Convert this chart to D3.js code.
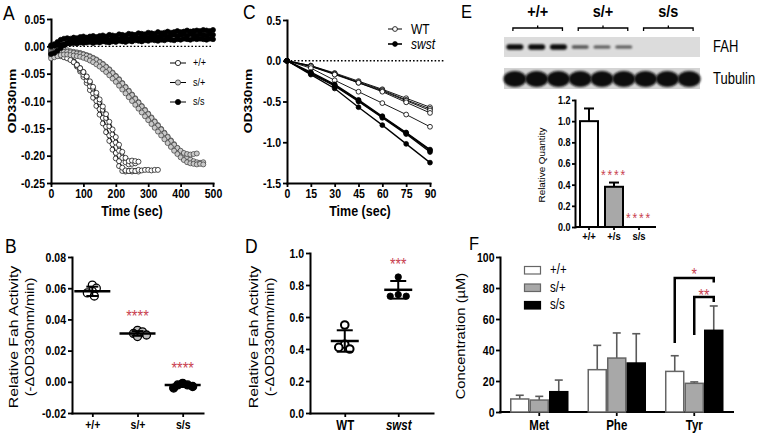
<!DOCTYPE html>
<html><head><meta charset="utf-8">
<script src="https://cdn.jsdelivr.net/npm/d3@7"></script>
<style>
html,body{margin:0;padding:0;background:#fff;}
svg{display:block;}
</style></head><body>
<svg id="chart" width="757" height="439"></svg>
<script>
// ---------------- DATA ----------------
// Panel A: OD330 kinetic traces (time in sec)
const timeA = [0,10,20,30,40,50,60,70,80,90,100,110,120,130,140,150,160,170,180,190,200,210,220,230,240,250,260,270,280,290,300,310,320,330,340,350,360,370,380,390,400,410,420,430,440,450,460,470,480,490,500];
const aWT = [
  [-0.004,-0.006,-0.008,-0.010,-0.013,-0.017,-0.022,-0.029,-0.037,-0.046,-0.056,-0.067,-0.080,-0.094,-0.109,-0.125,-0.141,-0.157,-0.173,-0.189,-0.205,-0.219,-0.228,-0.229,-0.228,-0.229,-0.228,-0.229],
  [-0.008,-0.009,-0.011,-0.012,-0.014,-0.018,-0.023,-0.028,-0.035,-0.043,-0.052,-0.062,-0.073,-0.086,-0.100,-0.115,-0.131,-0.147,-0.163,-0.179,-0.195,-0.210,-0.222,-0.227,-0.228,-0.227,-0.228,-0.226,-0.227,-0.226,-0.226,-0.227,-0.226,-0.226],
  [-0.010,-0.011,-0.012,-0.014,-0.016,-0.019,-0.023,-0.028,-0.033,-0.040,-0.047,-0.056,-0.066,-0.077,-0.089,-0.102,-0.116,-0.131,-0.146,-0.161,-0.176,-0.191,-0.204,-0.212,-0.216,-0.215,-0.214],
  [-0.015,-0.016,-0.017,-0.018,-0.020,-0.022,-0.025,-0.029,-0.034,-0.040,-0.047,-0.055,-0.064,-0.074,-0.085,-0.097,-0.110,-0.124,-0.138,-0.152,-0.166,-0.180,-0.193,-0.204,-0.210,-0.209,-0.210,-0.211]
];
const aHet = [
  [-0.012,-0.010,-0.008,-0.006,-0.006,-0.007,-0.009,-0.010,-0.011,-0.012,-0.014,-0.016,-0.018,-0.021,-0.024,-0.028,-0.032,-0.037,-0.042,-0.048,-0.054,-0.060,-0.067,-0.074,-0.081,-0.088,-0.095,-0.102,-0.109,-0.116,-0.123,-0.130,-0.137,-0.144,-0.151,-0.158,-0.165,-0.172,-0.179,-0.186,-0.192,-0.198,-0.203,-0.207,-0.210,-0.212,-0.213,-0.212],
  [-0.018,-0.016,-0.013,-0.011,-0.010,-0.010,-0.011,-0.012,-0.013,-0.014,-0.015,-0.017,-0.019,-0.022,-0.025,-0.029,-0.033,-0.038,-0.043,-0.049,-0.055,-0.061,-0.068,-0.075,-0.082,-0.089,-0.096,-0.103,-0.110,-0.117,-0.124,-0.131,-0.138,-0.145,-0.152,-0.159,-0.166,-0.173,-0.180,-0.186,-0.191,-0.195,-0.197,-0.198,-0.197,-0.196],
  [-0.022,-0.020,-0.018,-0.016,-0.015,-0.015,-0.016,-0.017,-0.018,-0.019,-0.021,-0.023,-0.026,-0.029,-0.033,-0.037,-0.042,-0.047,-0.053,-0.059,-0.065,-0.072,-0.079,-0.086,-0.093,-0.100,-0.107,-0.114,-0.121,-0.128,-0.135,-0.142,-0.149,-0.156,-0.163,-0.170,-0.177,-0.184,-0.191,-0.197,-0.203,-0.208,-0.212,-0.214,-0.215,-0.216,-0.215,-0.216]
];
const aHom = [
  [0.002,0.004,0.008,0.012,0.014,0.015,0.014,0.016,0.015,0.017,0.018,0.016,0.018,0.019,0.017,0.019,0.020,0.018,0.021,0.020,0.019,0.022,0.021,0.020,0.023,0.022,0.021,0.024,0.023,0.022,0.025,0.024,0.023,0.026,0.024,0.025,0.027,0.025,0.026,0.028,0.026,0.027,0.029,0.027,0.028,0.029,0.028,0.030,0.029,0.028,0.030],
  [-0.014,-0.012,-0.008,-0.003,0.002,0.006,0.008,0.009,0.010,0.009,0.011,0.012,0.010,0.012,0.013,0.011,0.013,0.014,0.012,0.014,0.015,0.013,0.015,0.016,0.014,0.016,0.017,0.015,0.017,0.018,0.016,0.018,0.019,0.017,0.019,0.020,0.018,0.020,0.021,0.019,0.021,0.022,0.020,0.022,0.021,0.020,0.022,0.021,0.020,0.022,0.021],
  [0.000,0.001,0.002,0.003,0.004,0.005,0.005,0.006,0.005,0.007,0.006,0.007,0.008,0.006,0.008,0.007,0.009,0.008,0.007,0.009,0.008,0.010,0.009,0.008,0.010,0.009,0.011,0.010,0.009,0.011,0.010,0.012,0.011,0.010,0.012,0.011,0.013,0.012,0.011,0.013,0.012,0.014,0.013,0.012,0.014,0.013,0.014,0.013,0.012,0.014,0.013]
];
const aLegend = ["+/+", "s/+", "s/s"];
const aXTicks = [0,100,200,300,400,500];
const aYTicks = [0.05,0.00,-0.05,-0.10,-0.15,-0.20,-0.25];

// Panel C
const timeC = [0,15,30,45,60,75,90];
const cWT = [
  [0,-0.06,-0.15,-0.25,-0.35,-0.46,-0.57],
  [0,-0.06,-0.16,-0.26,-0.36,-0.48,-0.59],
  [0,-0.07,-0.16,-0.27,-0.37,-0.49,-0.61],
  [0,-0.07,-0.17,-0.27,-0.38,-0.51,-0.64],
  [0,-0.09,-0.24,-0.38,-0.52,-0.66,-0.81]
];
const cSwst = [
  [0,-0.14,-0.29,-0.48,-0.68,-0.88,-1.09],
  [0,-0.15,-0.30,-0.49,-0.69,-0.89,-1.10],
  [0,-0.16,-0.31,-0.50,-0.70,-0.90,-1.12],
  [0,-0.17,-0.34,-0.57,-0.79,-1.02,-1.25]
];
const cLegend = ["WT", "swst"];
const cXTicks = [0,15,30,45,60,75,90];
const cYTicks = [0.5,0.0,-0.5,-1.0,-1.5];

// Panel B
const bCats = ["+/+", "s/+", "s/s"];
const bPoints = [[0.062,0.060,0.058,0.057,0.055],[0.033,0.032,0.031,0.030,0.029],[-0.001,-0.002,-0.002,-0.003,-0.004]];
const bMean = [0.058, 0.031, -0.002];
const bSD = [0.003, 0.0015, 0.0012];
const bStars = ["", "****", "****"];
const bStarAt = [null, 0.0449, 0.0112];
const bYTicks = [0.08,0.06,0.04,0.02,0.00,-0.02];

// Panel D
const dCats = ["WT", "swst"];
const dPoints = [[0.55,0.43,0.40,0.41],[0.85,0.74,0.73,0.73]];
const dMean = [0.45, 0.77];
const dSD = [0.067, 0.055];
const dStars = ["", "***"];
const dStarAt = [null, 0.952];
const dYTicks = [0.0,0.2,0.4,0.6,0.8,1.0];

// Panel E
const blotGroups = ["+/+", "s/+", "s/s"];
const fahBand = [1.0,1.0,1.0,0.45,0.42,0.42,0,0,0];
const tubBand = [1,1,1,1,1,1,1,1,1];
const blotLabels = ["FAH", "Tubulin"];
const eCats = ["+/+", "+/s", "s/s"];
const eVals = [1.0, 0.38, 0.0];
const eErr = [0.12, 0.04, 0.0];
const eStars = ["", "****", "****"];
const eStarAt = [null, 0.52, 0.113];
const eYTicks = [0.0,0.2,0.4,0.6,0.8,1.0,1.2];

// Panel F
const fGroups = ["Met", "Phe", "Tyr"];
const fSeries = ["+/+", "s/+", "s/s"];
const fPlus = [8.4, 27.3, 26.2];   const fPlusSD = [2.4, 15.7, 10.1];
const fHet  = [7.7, 34.8, 18.5];   const fHetSD  = [2.4, 16.2, 0.9];
const fHom  = [13.1, 31.6, 52.7];  const fHomSD  = [7.5, 18.9, 15.7];
const fYTicks = [0,20,40,60,80,100];
const fSig = [
  {group:"Tyr", from:"+/+", to:"s/s", top:86.5, leftEnd:44.5, rightEnd:83.5, label:"*",  starAt:91.5},
  {group:"Tyr", from:"s/+", to:"s/s", top:74.2, leftEnd:49.7, rightEnd:71.0, label:"**", starAt:78.0}
];

// ---------------- DRAWING ----------------
const FONT = '"Liberation Sans", Arial, Helvetica, sans-serif';
const SY = 1.2;
const STAR = "#c8414f";
const svg = d3.select("#chart");
svg.append("rect").attr("width",757).attr("height",439).attr("fill","#fff");
const fmt = f => d => d3.format(f)(d).replace("\u2212","-");

function txt(g, x, y, s, o = {}) {
  const t = g.append("text")
    .attr("transform", `translate(${x},${y})` + (o.rot ? ` rotate(${o.rot}) scale(${SY},1)` : ` scale(1,${o.sy || SY})`))
    .attr("font-family", FONT).attr("font-size", o.size || 12)
    .attr("font-weight", o.bold ? "bold" : "normal")
    .attr("font-style", o.italic ? "italic" : "normal")
    .attr("text-anchor", o.anchor || "start")
    .attr("fill", o.fill || "#000")
    .text(s);
  if (o.ls) t.attr("letter-spacing", o.ls);
  return t;
}
// asterisks: place glyph centre at cy
function stars(g, cx, cy, s, size, ls) {
  return txt(g, cx, cy + 0.58 * size * SY, s, {size, anchor:"middle", fill:STAR, ls});
}
function styleAxis(a, fs, noDomain) {
  a.attr("font-family", FONT).attr("font-size", fs).attr("font-weight", "bold");
  if (noDomain) a.select(".domain").remove();
  else a.select(".domain").attr("stroke","#000").attr("stroke-width",2).attr("stroke-linecap","square");
  a.selectAll(".tick line").attr("stroke","#000").attr("stroke-width",1.8);
  a.selectAll(".tick text").attr("fill","#000").attr("transform",`scale(1,${SY})`);
  return a;
}
function swarm(vals, y, minDist) {
  const placed = [];
  return vals.map(v => {
    const py = y(v); let best = 0;
    for (let k = 0; k < 80; k++) {
      const c = (k % 2 ? 1 : -1) * Math.ceil(k / 2);
      if (placed.every(p => Math.hypot(p.x - c, p.y - py) >= minDist)) { best = c; break; }
    }
    placed.push({x: best, y: py});
    return best;
  });
}

// ---- Panel A ----
(function(){
  const g = svg.append("g");
  const x = d3.scaleLinear([0,500],[51,213]);
  const y = d3.scaleLinear([-0.25,0.05],[183,19]);
  styleAxis(g.append("g").attr("transform","translate(51,0)")
    .call(d3.axisLeft(y).tickValues(aYTicks).tickFormat(fmt(".2f")).tickSize(4).tickSizeOuter(0).tickPadding(2)), 10.5);
  styleAxis(g.append("g").attr("transform","translate(0,183)")
    .call(d3.axisBottom(x).tickValues(aXTicks).tickFormat(d3.format("d")).tickSize(4).tickSizeOuter(0).tickPadding(1)), 10.5);
  g.append("line").attr("x1",x(0)).attr("x2",x(500)).attr("y1",y(0)).attr("y2",y(0))
    .attr("stroke","#000").attr("stroke-width",1.3).attr("stroke-dasharray","1.6,2");
  const series = [
    {reps:aWT, fill:"#fff", stroke:"#000"},
    {reps:aHet, fill:"#c9c9c9", stroke:"#3a3a3a"},
    {reps:aHom, fill:"#000", stroke:"#000"}
  ];
  const line = d3.line().x(d=>x(d.t)).y(d=>y(d.v));
  series.forEach(s => s.reps.forEach(rep => {
    const pts = rep.map((v,i)=>({t:timeA[i], v}));
    g.append("path").attr("d", line(pts)).attr("fill","none").attr("stroke","#000").attr("stroke-width",0.9);
    g.selectAll(null).data(pts).enter().append("circle")
      .attr("cx",d=>x(d.t)).attr("cy",d=>y(d.v)).attr("r",2.5)
      .attr("fill",s.fill).attr("stroke",s.stroke).attr("stroke-width",0.7);
  }));
  aLegend.forEach((name,i) => {
    const ly = 63 + i*19.5;
    g.append("line").attr("x1",170).attr("x2",186).attr("y1",ly).attr("y2",ly).attr("stroke","#000").attr("stroke-width",1);
    g.append("circle").attr("cx",178).attr("cy",ly).attr("r",2.6).attr("fill",series[i].fill).attr("stroke",series[i].stroke).attr("stroke-width",0.8);
    txt(g, 193, ly+3, name, {size:9});
  });
  txt(g, 132, 216, "Time (sec)", {size:12.5, bold:true, anchor:"middle"});
  txt(g, 16, 101, "OD330nm", {size:11.5, bold:true, anchor:"middle", rot:-90});
  txt(g, 3, 20, "A", {size:17.5});
})();

// ---- Panel C ----
(function(){
  const g = svg.append("g");
  const x = d3.scaleLinear([0,90],[287,430]);
  const y = d3.scaleLinear([-1.5,0.5],[183,20]);
  styleAxis(g.append("g").attr("transform","translate(287,0)")
    .call(d3.axisLeft(y).tickValues(cYTicks).tickFormat(fmt(".1f")).tickSize(4).tickSizeOuter(0).tickPadding(2)), 10.5);
  styleAxis(g.append("g").attr("transform","translate(0,183)")
    .call(d3.axisBottom(x).tickValues(cXTicks).tickFormat(d3.format("d")).tickSize(4).tickSizeOuter(0).tickPadding(1)), 10.5);
  g.append("line").attr("x1",x(0)).attr("x2",445).attr("y1",y(0)).attr("y2",y(0))
    .attr("stroke","#000").attr("stroke-width",1.3).attr("stroke-dasharray","1.6,2");
  const line = d3.line().x(d=>x(d.t)).y(d=>y(d.v));
  const series = [{reps:cWT, fill:"#fff", w:0.9},{reps:cSwst, fill:"#000", w:1.3}];
  series.forEach(s => s.reps.forEach(rep => {
    const pts = rep.map((v,i)=>({t:timeC[i], v}));
    g.append("path").attr("d", line(pts)).attr("fill","none").attr("stroke","#000").attr("stroke-width",s.w);
    g.selectAll(null).data(pts).enter().append("circle")
      .attr("cx",d=>x(d.t)).attr("cy",d=>y(d.v)).attr("r",2.4)
      .attr("fill",s.fill).attr("stroke","#000").attr("stroke-width",0.8);
  }));
  cLegend.forEach((name,i) => {
    const ly = 29 + i*15;
    g.append("line").attr("x1",388).attr("x2",402).attr("y1",ly).attr("y2",ly).attr("stroke","#000").attr("stroke-width",i?1.6:1);
    g.append("circle").attr("cx",395).attr("cy",ly).attr("r",2.4).attr("fill",series[i].fill).attr("stroke","#000").attr("stroke-width",0.8);
    txt(g, 411, ly+4.5, name, {size:12, italic: i===1});
  });
  txt(g, 360, 216, "Time (sec)", {size:12.5, bold:true, anchor:"middle"});
  txt(g, 252, 101, "OD330nm", {size:11.5, bold:true, anchor:"middle", rot:-90});
  txt(g, 243, 19, "C", {size:17.5});
})();

// ---- Panel B ----
(function(){
  const g = svg.append("g");
  const y = d3.scaleLinear([-0.02,0.08],[413,257]);
  const x = d3.scalePoint(bCats,[72,203]).padding(0.45);
  styleAxis(g.append("g").attr("transform","translate(72,0)")
    .call(d3.axisLeft(y).tickValues(bYTicks).tickFormat(fmt(".2f")).tickSize(4).tickSizeOuter(0).tickPadding(2)), 10.5);
  styleAxis(g.append("g").attr("transform","translate(0,413)")
    .call(d3.axisBottom(x).tickSize(4).tickSizeOuter(0).tickPadding(2)), 10.5);
  const fills = ["#fff","#bdbdbd","#000"];
  bCats.forEach((c,ci) => {
    const off = swarm(bPoints[ci], y, 5);
    g.selectAll(null).data(bPoints[ci]).enter().append("circle")
      .attr("cx",(d,i)=>x(c)+off[i]).attr("cy",d=>y(d)).attr("r",4)
      .attr("fill",fills[ci]).attr("stroke","#000").attr("stroke-width",1.3);
    const cx = x(c);
    g.append("line").attr("x1",cx-18).attr("x2",cx+18).attr("y1",y(bMean[ci])).attr("y2",y(bMean[ci])).attr("stroke","#000").attr("stroke-width",2.5);
    g.append("line").attr("x1",cx).attr("x2",cx).attr("y1",y(bMean[ci]-bSD[ci])).attr("y2",y(bMean[ci]+bSD[ci])).attr("stroke","#000").attr("stroke-width",2);
    [bMean[ci]-bSD[ci], bMean[ci]+bSD[ci]].forEach(v=>g.append("line").attr("x1",cx-6).attr("x2",cx+6).attr("y1",y(v)).attr("y2",y(v)).attr("stroke","#000").attr("stroke-width",2));
    if (bStars[ci]) stars(g, cx, y(bStarAt[ci]), bStars[ci], 14.5);
  });
  txt(g, 18, 337, "Relative Fah Activity", {size:13.2, anchor:"middle", rot:-90});
  txt(g, 34, 337, "(-\u0394OD330nm/min)", {size:12.2, anchor:"middle", rot:-90});
  txt(g, 5, 253, "B", {size:17.5});
})();

// ---- Panel D ----
(function(){
  const g = svg.append("g");
  const y = d3.scaleLinear([0,1],[413,253]);
  const x = d3.scalePoint(dCats,[310,433]).padding(0.65);
  styleAxis(g.append("g").attr("transform","translate(310,0)")
    .call(d3.axisLeft(y).tickValues(dYTicks).tickFormat(fmt(".1f")).tickSize(4).tickSizeOuter(0).tickPadding(2)), 10.5);
  const ax = styleAxis(g.append("g").attr("transform","translate(0,413)")
    .call(d3.axisBottom(x).tickSize(4).tickSizeOuter(0).tickPadding(2)), 11.5);
  ax.selectAll(".tick text").attr("font-style", d => d==="swst" ? "italic" : "normal");
  dCats.forEach((c,ci) => {
    const off = swarm(dPoints[ci], y, ci ? 7.5 : 6.5);
    g.selectAll(null).data(dPoints[ci]).enter().append("circle")
      .attr("cx",(d,i)=>x(c)+off[i]).attr("cy",d=>y(d)).attr("r",ci?3.2:3.8)
      .attr("fill",ci?"#000":"#fff").attr("stroke","#000").attr("stroke-width",ci?0.8:2);
    const cx = x(c);
    g.append("line").attr("x1",cx-14).attr("x2",cx+14).attr("y1",y(dMean[ci])).attr("y2",y(dMean[ci])).attr("stroke","#000").attr("stroke-width",2.5);
    g.append("line").attr("x1",cx).attr("x2",cx).attr("y1",y(dMean[ci]-dSD[ci])).attr("y2",y(dMean[ci]+dSD[ci])).attr("stroke","#000").attr("stroke-width",2);
    [dMean[ci]-dSD[ci], dMean[ci]+dSD[ci]].forEach(v=>g.append("line").attr("x1",cx-8).attr("x2",cx+8).attr("y1",y(v)).attr("y2",y(v)).attr("stroke","#000").attr("stroke-width",2));
    if (dStars[ci]) stars(g, cx, y(dStarAt[ci]), dStars[ci], 14);
  });
  txt(g, 258, 337, "Relative Fah Activity", {size:13.2, anchor:"middle", rot:-90});
  txt(g, 274, 337, "(-\u0394OD330nm/min)", {size:12.2, anchor:"middle", rot:-90});
  txt(g, 245, 253, "D", {size:17.5});
})();

// ---- Panel E ----
(function(){
  const g = svg.append("g");
  const defs = svg.append("defs");
  defs.append("filter").attr("id","blur").attr("x","-30%").attr("y","-60%").attr("width","160%").attr("height","220%")
    .append("feGaussianBlur").attr("stdDeviation",0.9);
  const lanes = d3.scaleBand(d3.range(9),[504,700]);
  const lc = i => lanes(i) + lanes.bandwidth()/2;
  g.append("rect").attr("x",504).attr("y",37).attr("width",196).attr("height",20).attr("fill","#dcdcdc");
  g.append("rect").attr("x",504).attr("y",68).attr("width",196).attr("height",21).attr("fill","#d4d4d4");
  fahBand.forEach((v,i) => {
    if (v <= 0) return;
    const h = 1.5 + 4*v;
    g.append("rect").attr("x",lc(i)-8.5).attr("y",47-h/2).attr("width",17).attr("height",h).attr("rx",h/2)
      .attr("fill","#000").attr("opacity",0.35+0.6*v).attr("filter","url(#blur)");
  });
  tubBand.forEach((v,i) => {
    g.append("ellipse").attr("cx",lc(i)).attr("cy",79).attr("rx",11.5).attr("ry",8*v)
      .attr("fill","#111").attr("filter","url(#blur)");
  });
  blotGroups.forEach((name,gi) => {
    const x0 = lc(gi*3) - 2, x1 = lc(gi*3+2) + 4, xm = (x0+x1)/2;
    g.append("path").attr("d",`M${x0},31 V28 H${x1} V31 M${xm},28 V25.5`).attr("fill","none").attr("stroke","#000").attr("stroke-width",1.3);
    txt(g, xm, 17, name, {size:14.5, bold:true, anchor:"middle"});
  });
  txt(g, 713, 51.5, blotLabels[0], {size:13});
  txt(g, 713, 84, blotLabels[1], {size:13});

  const y = d3.scaleLinear([0,1.2],[227,100]);
  const x = d3.scaleBand(eCats,[580,648]).paddingInner(0.28).paddingOuter(0);
  styleAxis(g.append("g").attr("transform","translate(575,0)")
    .call(d3.axisLeft(y).tickValues(eYTicks).tickFormat(fmt(".1f")).tickSize(3).tickSizeOuter(0).tickPadding(1.5)), 9);
  styleAxis(g.append("g").attr("transform","translate(0,227)")
    .call(d3.axisBottom(x).tickSize(3).tickSizeOuter(0).tickPadding(1)), 9.5, true);
  g.append("line").attr("x1",575).attr("x2",656).attr("y1",227).attr("y2",227).attr("stroke","#000").attr("stroke-width",2);
  const fills = ["#fff","#a8a8a8","#fff"];
  eCats.forEach((c,i) => {
    const cx = x(c) + x.bandwidth()/2;
    if (eVals[i] > 0) {
      g.append("line").attr("x1",cx).attr("x2",cx).attr("y1",y(eVals[i])).attr("y2",y(eVals[i]+eErr[i])).attr("stroke","#000").attr("stroke-width",2);
      g.append("line").attr("x1",cx-5).attr("x2",cx+5).attr("y1",y(eVals[i]+eErr[i])).attr("y2",y(eVals[i]+eErr[i])).attr("stroke","#000").attr("stroke-width",2);
      g.append("rect").attr("x",x(c)).attr("y",y(eVals[i])).attr("width",x.bandwidth()).attr("height",y(0)-y(eVals[i]))
        .attr("fill",fills[i]).attr("stroke","#000").attr("stroke-width",2);
    }
    if (eStars[i]) stars(g, cx, y(eStarAt[i]), eStars[i], 12, 1.8);
  });
  txt(g, 545, 165, "Relative Quantity", {size:8.2, anchor:"middle", rot:-90});
  txt(g, 461, 18, "E", {size:16.5, sy:1.12});
})();

// ---- Panel F ----
(function(){
  const g = svg.append("g");
  const y = d3.scaleLinear([0,100],[412,257]);
  const x = d3.scaleBand(fGroups,[510,723.5]).paddingInner(0.245).paddingOuter(0);
  const xs = d3.scaleBand(fSeries,[0,x.bandwidth()]);
  styleAxis(g.append("g").attr("transform","translate(500,0)")
    .call(d3.axisLeft(y).tickValues(fYTicks).tickFormat(d3.format("d")).tickSize(4).tickSizeOuter(0).tickPadding(1.5)), 10.5);
  styleAxis(g.append("g").attr("transform","translate(0,412)")
    .call(d3.axisBottom(x).tickSize(4).tickSizeOuter(0).tickPadding(3)), 11.5, true);
  g.append("line").attr("x1",500).attr("x2",733).attr("y1",412).attr("y2",412).attr("stroke","#000").attr("stroke-width",2).attr("stroke-linecap","square");
  const vals = [fPlus, fHet, fHom], sds = [fPlusSD, fHetSD, fHomSD];
  const fills = ["#fff","#a8a8a8","#000"], strokes = ["#666","#666","#000"];
  fSeries.forEach((s,si) => fGroups.forEach((gr,gi) => {
    const bx = x(gr) + xs(s), cx = bx + xs.bandwidth()/2;
    const v = vals[si][gi], e = v + sds[si][gi];
    g.append("line").attr("x1",cx).attr("x2",cx).attr("y1",y(v)).attr("y2",y(e)).attr("stroke","#5a5a5a").attr("stroke-width",1.6);
    g.append("line").attr("x1",cx-4).attr("x2",cx+4).attr("y1",y(e)).attr("y2",y(e)).attr("stroke","#5a5a5a").attr("stroke-width",1.6);
    g.append("rect").attr("x",bx+0.75).attr("y",y(v)).attr("width",xs.bandwidth()-1.5).attr("height",y(0)-y(v))
      .attr("fill",fills[si]).attr("stroke",strokes[si]).attr("stroke-width",1.5);
  }));
  fSig.forEach(sg => {
    const x0 = x(sg.group) + xs(sg.from) + xs.bandwidth()/2;
    const x1 = x(sg.group) + xs(sg.to) + xs.bandwidth()/2;
    g.append("path").attr("d",`M${x0},${y(sg.leftEnd)} V${y(sg.top)} H${x1} V${y(sg.rightEnd)}`)
      .attr("fill","none").attr("stroke","#000").attr("stroke-width",2.5);
    stars(g, (x0+x1)/2, y(sg.starAt), sg.label, 14);
  });
  fSeries.forEach((s,i) => {
    const ly = 266.5 + i*17.5;
    g.append("rect").attr("x",524.5).attr("y",ly).attr("width",16).attr("height",7.5)
      .attr("fill",fills[i]).attr("stroke",strokes[i]).attr("stroke-width",1.2);
    txt(g, 550, ly+7.5, s, {size:11.5});
  });
  txt(g, 465, 336, "Concentration (\u00b5M)", {size:12.3, anchor:"middle", rot:-90});
  txt(g, 469, 250, "F", {size:16.5, sy:1.12});
})();
</script>
</body></html>
